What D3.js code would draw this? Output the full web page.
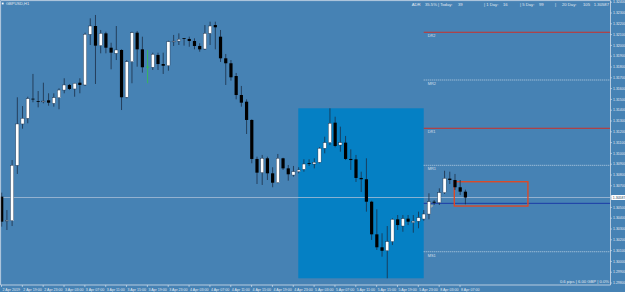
<!DOCTYPE html>
<html>
<head>
<meta charset="utf-8">
<script src="https://cdn.jsdelivr.net/npm/d3@7"></script>
<style>
html, body { margin: 0; padding: 0; background: #4682b4; }
svg { display: block; font-family: "Liberation Sans", Arial, sans-serif; }
</style>
</head>
<body>
<div id="chart"></div>
<script>
// GBPUSD H1 candles
const opens = [1.30595,1.30370,1.30372,1.30885,1.31268,1.31320,1.31502,1.31480,1.31474,1.31487,
  1.31459,1.31511,1.31582,1.31629,1.31592,1.31650,1.31629,1.32098,1.32175,1.31993,
  1.32107,1.31974,1.31922,1.31953,1.31515,1.31844,1.32113,1.31959,1.31798,1.31793,
  1.31907,1.31823,1.31807,1.32030,1.32036,1.32063,1.32055,1.32036,1.31990,1.31962,
  1.32107,1.32184,1.32076,1.31876,1.31830,1.31712,1.31536,1.31474,1.31305,1.30944,
  1.30817,1.30950,1.30811,1.30724,1.30950,1.30857,1.30795,1.30826,1.30848,1.30905,
  1.30897,1.30913,1.31043,1.31095,1.31280,1.31073,1.31095,1.30944,1.30940,1.30768,
  1.30756,1.30548,1.30246,1.30126,1.30094,1.30179,1.30385,1.30323,1.30391,1.30355,
  1.30368,1.30388,1.30434,1.30548,1.30539,1.30632,1.30762,1.30749,1.30682,1.30641];
const highs = [1.30632,1.30471,1.30934,1.31515,1.31434,1.31520,1.31731,1.31573,1.31650,1.31552,
  1.31552,1.31598,1.31691,1.31638,1.31648,1.31691,1.32113,1.32246,1.32277,1.32138,
  1.32122,1.32020,1.32175,1.31959,1.31860,1.32122,1.32129,1.32076,1.31953,1.31928,
  1.31928,1.31928,1.32039,1.32092,1.32107,1.32063,1.32076,1.32061,1.32015,1.32184,
  1.32215,1.32215,1.32138,1.31916,1.31860,1.31740,1.31620,1.31496,1.31311,1.30965,
  1.30981,1.30965,1.30867,1.30990,1.30955,1.30888,1.30879,1.30867,1.30941,1.30941,
  1.30950,1.31052,1.31150,1.31413,1.31335,1.31243,1.31157,1.31033,1.30981,1.30826,
  1.30950,1.30557,1.30478,1.30256,1.30323,1.30394,1.30425,1.30425,1.30425,1.30425,
  1.30456,1.30471,1.30626,1.30564,1.30672,1.30835,1.30826,1.30805,1.30749,1.30660];
const lows = [1.30317,1.30286,1.30323,1.30805,1.31224,1.31274,1.31469,1.31422,1.31459,1.31437,
  1.31428,1.31404,1.31552,1.31582,1.31520,1.31552,1.31620,1.31999,1.31638,1.31922,
  1.31922,1.31774,1.31860,1.31397,1.31506,1.31645,1.31798,1.31743,1.31645,1.31768,
  1.31768,1.31731,1.31761,1.31990,1.31999,1.31993,1.31983,1.31959,1.31937,1.31953,
  1.31999,1.31959,1.31842,1.31629,1.31669,1.31496,1.31428,1.31175,1.30904,1.30712,
  1.30703,1.30749,1.30682,1.30719,1.30842,1.30743,1.30780,1.30811,1.30826,1.30879,
  1.30857,1.30904,1.30996,1.31073,1.31052,1.31011,1.30934,1.30842,1.30731,1.30638,
  1.30456,1.30194,1.30101,1.30039,1.29839,1.30147,1.30286,1.30270,1.30332,1.30261,
  1.30302,1.30372,1.30385,1.30518,1.30518,1.30620,1.30712,1.30657,1.30610,1.30524];
const closes = [1.30363,1.30376,1.30885,1.31268,1.31320,1.31502,1.31497,1.31474,1.31480,1.31465,
  1.31511,1.31582,1.31629,1.31592,1.31645,1.31629,1.32098,1.32175,1.31993,1.32107,
  1.31974,1.31928,1.31953,1.31515,1.31844,1.32113,1.31959,1.31793,1.31798,1.31913,
  1.31823,1.31807,1.32030,1.32035,1.32052,1.32058,1.32036,1.31990,1.31959,1.32107,
  1.32175,1.32163,1.31876,1.31830,1.31700,1.31536,1.31465,1.31305,1.30944,1.30817,
  1.30950,1.30811,1.30724,1.30950,1.30857,1.30802,1.30826,1.30842,1.30897,1.30897,
  1.30913,1.31043,1.31095,1.31274,1.31064,1.31095,1.30944,1.30934,1.30768,1.30756,
  1.30548,1.30246,1.30126,1.30094,1.30179,1.30385,1.30332,1.30391,1.30363,1.30368,
  1.30400,1.30434,1.30548,1.30539,1.30632,1.30765,1.30749,1.30682,1.30641,1.30587];

const timeLabels = ["2 Apr 2019","2 Apr 19:00","2 Apr 23:00","3 Apr 03:00","3 Apr 07:00","3 Apr 11:00",
  "3 Apr 15:00","3 Apr 19:00","3 Apr 23:00","4 Apr 03:00","4 Apr 07:00","4 Apr 11:00","4 Apr 15:00",
  "4 Apr 19:00","4 Apr 23:00","5 Apr 03:00","5 Apr 07:00","5 Apr 11:00","5 Apr 15:00","5 Apr 19:00",
  "5 Apr 23:00","8 Apr 03:00","8 Apr 07:00"];
const timeTickBars = [0,4,8,12,16,20,24,28,32,36,40,44,48,52,56,60,64,68,72,76,80,84,88];

const priceTicks = [1.3240,1.3230,1.3220,1.3210,1.3200,1.3190,1.3180,1.3170,1.3160,1.3150,1.3140,
  1.3130,1.3120,1.3110,1.3100,1.3090,1.3080,1.3070,1.3060,1.3050,1.3040,1.3030,1.3020,1.3010,
  1.3000,1.2990,1.2980];

// daily pivot levels, from 8 Apr 00:00
const pivotNames = ["DR2","MR2","DR1","MR1","PP","MS1"];
const pivotValues = [1.32117,1.31675,1.31228,1.30885,1.30533,1.30085];
const pivotStartBar = 81;

// 5 Apr session box and the orange box
const sessionStart = 57, sessionEnd = 81;
const boxStart = 87, boxEnd = 101, boxTop = 1.30733, boxBottom = 1.30508;

const infoLabels = ["ADR","35.5%","| Today:","39","| 1 Day:","16","| 5 Day:","99","|","20 Day:","105"];
const symbolTitle = "GBPUSD,H1";
const footerText = "0.6 pips | 6.00 GBP | 0.0%";

const width = 625, height = 292;
const plotRight = 610.5, plotBottom = 285;
const bg = "#4682b4", light = "#e2e9f1";

const svg = d3.select("#chart").append("svg")
    .attr("width", width)
    .attr("height", height);

svg.append("rect").attr("width", width).attr("height", height).attr("fill", bg);

const x = d3.scaleLinear().domain([0, 88]).range([1.7, 460.2]);
const y = d3.scaleLinear().domain([1.2980, 1.3240]).range([282.5, 1.7]);

// session rectangle spans the high/low of the bars inside it
const sessHigh = d3.max(highs.slice(sessionStart, sessionEnd + 1));
const sessLow = d3.min(lows.slice(sessionStart, sessionEnd + 1));
svg.append("rect")
    .attr("x", x(sessionStart) - 0.4)
    .attr("y", y(sessHigh))
    .attr("width", x(sessionEnd) - x(sessionStart) + 0.4)
    .attr("height", y(sessLow) - y(sessHigh))
    .attr("fill", "#0580c4");

// pivot lines
pivotNames.forEach((name, i) => {
    const yy = y(pivotValues[i]);
    const isR = name.startsWith("DR");
    const isPP = name === "PP";
    svg.append("line")
        .attr("x1", x(pivotStartBar)).attr("x2", plotRight)
        .attr("y1", yy).attr("y2", yy)
        .attr("stroke", isR ? "#cc3028" : (isPP ? "#1a3aa8" : "#d6e2ee"))
        .attr("stroke-width", isR || isPP ? 1 : 0.8)
        .attr("stroke-dasharray", isR || isPP ? null : "1,1");
    svg.append("text")
        .attr("x", x(pivotStartBar) + 4)
        .attr("y", yy + 4.8)
        .attr("font-size", 3.9)
        .attr("fill", isPP ? "#e8e0b0" : "#d4dfeb")
        .text(name);
});

// bid line
const last = closes[closes.length - 1];
svg.append("line")
    .attr("x1", 0).attr("x2", plotRight)
    .attr("y1", y(last)).attr("y2", y(last))
    .attr("stroke", "#a8bed5").attr("stroke-width", 0.8);

// orange box
svg.append("rect")
    .attr("x", x(boxStart) - 0.7)
    .attr("y", y(boxTop))
    .attr("width", x(boxEnd) - x(boxStart) + 0.7)
    .attr("height", y(boxBottom) - y(boxTop))
    .attr("fill", "none")
    .attr("stroke", "#e6461e")
    .attr("stroke-width", 1.3);

// candles
const bars = d3.range(opens.length);
const candles = svg.append("g");
candles.selectAll("line.wick")
    .data(bars)
    .join("line")
    .attr("class", "wick")
    .attr("x1", i => x(i)).attr("x2", i => x(i))
    .attr("y1", i => y(highs[i])).attr("y2", i => y(lows[i]))
    .attr("stroke", i => opens[i] === closes[i] ? "#36c048" : "#1c2e46")
    .attr("stroke-width", 0.8);
candles.selectAll("rect.body")
    .data(bars)
    .join("rect")
    .attr("class", "body")
    .attr("x", i => x(i) - 1.6)
    .attr("width", 3.2)
    .attr("y", i => y(Math.max(opens[i], closes[i])))
    .attr("height", i => Math.max(0.8, Math.abs(y(opens[i]) - y(closes[i]))))
    .attr("fill", i => opens[i] === closes[i] ? "#36c048" : (closes[i] > opens[i] ? "#ffffff" : "#000000"))
    .attr("stroke", i => closes[i] > opens[i] ? "#1c2e46" : "none")
    .attr("stroke-width", 0.4);

// frame
svg.append("path")
    .attr("d", `M0.6,${plotBottom} V0.6 H${plotRight} V${plotBottom} H0.6`)
    .attr("fill", "none").attr("stroke", "#c4d4e4").attr("stroke-width", 0.9);

// price axis
const yAxis = d3.axisRight(y)
    .tickValues(priceTicks)
    .tickFormat(d3.format(".5f"))
    .tickSize(1.5)
    .tickPadding(1);
const gy = svg.append("g").attr("transform", `translate(${plotRight},0)`).call(yAxis);
gy.select(".domain").remove();
gy.selectAll(".tick line").attr("stroke", light).attr("stroke-width", 0.6);
gy.selectAll(".tick text").attr("fill", light).attr("font-size", 3.5).attr("font-family", "Liberation Sans, Arial, sans-serif");

// current price tag
svg.append("rect")
    .attr("x", plotRight + 0.8).attr("y", y(last) - 2.5)
    .attr("width", 14).attr("height", 5)
    .attr("fill", "#ffffff");
svg.append("text")
    .attr("x", plotRight + 2.3).attr("y", y(last) + 1.3)
    .attr("font-size", 3.5).attr("fill", "#243a55")
    .text(d3.format(".5f")(last));

// time axis
const xAxis = d3.axisBottom(x)
    .tickValues(timeTickBars)
    .tickFormat((d, i) => timeLabels[i])
    .tickSize(2)
    .tickPadding(1);
const gx = svg.append("g").attr("transform", `translate(-0.7,${plotBottom})`).call(xAxis);
gx.select(".domain").remove();
gx.selectAll(".tick line").attr("stroke", light).attr("stroke-width", 0.6);
gx.selectAll(".tick text")
    .attr("fill", light).attr("font-size", 3.6)
    .attr("text-anchor", "start").attr("dx", 1)
    .attr("font-family", "Liberation Sans, Arial, sans-serif");

// title top-left
svg.append("rect").attr("x", 1.8).attr("y", 2.6).attr("width", 1.8).attr("height", 1.8).attr("fill", "#ffffff");
svg.append("text").attr("x", 6).attr("y", 5.2).attr("font-size", 4).attr("fill", light).text(symbolTitle);

// info line top-right
const infoX = [411.7, 425, 438, 458, 484, 503, 520, 539, 555, 562, 583];
infoLabels.forEach((t, i) => {
    svg.append("text").attr("x", infoX[i]).attr("y", 5.5)
        .attr("font-size", 4.2).attr("fill", light).text(t);
});
svg.append("text").attr("x", 609).attr("y", 5.5).attr("text-anchor", "end")
    .attr("font-size", 4.2).attr("fill", light).text(d3.format(".5f")(last));

// footer
svg.append("text").attr("x", 609).attr("y", 283).attr("text-anchor", "end")
    .attr("font-size", 4.2).attr("fill", light).text(footerText);
</script>
</body>
</html>
